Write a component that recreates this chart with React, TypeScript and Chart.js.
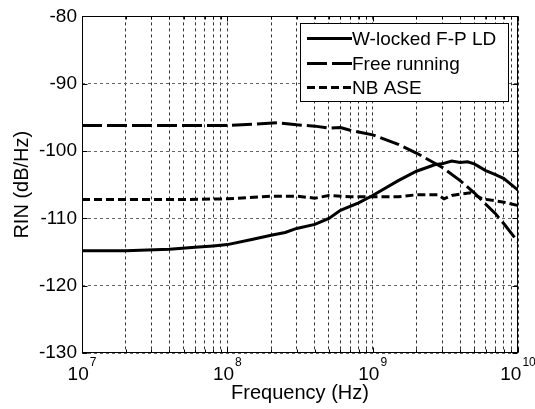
import React, { useEffect, useRef } from "react";
import { Chart, registerables } from "chart.js";

Chart.register(...registerables);

// ---- Data ----
const freqLocked = [1e7, 2e7, 4e7, 6e7, 8e7, 1e8, 1.5e8, 2e8, 2.5e8, 3e8, 4e8, 5e8, 6e8, 8e8, 1e9, 1.5e9, 2e9, 2.7e9, 3e9, 3.5e9, 4e9, 4.5e9, 5e9, 6e9, 7e9, 8e9, 1e10];
const rinLocked = [-114.8, -114.8, -114.6, -114.3, -114.1, -113.9, -113.1, -112.5, -112.1, -111.5, -110.9, -110.0, -108.8, -107.7, -106.6, -104.4, -103.0, -102.0, -101.9, -101.5, -101.7, -101.6, -101.9, -102.9, -103.5, -104.1, -105.8];

const freqFree = [1e7, 5e7, 1e8, 1.5e8, 2.2e8, 3e8, 4e8, 5e8, 6e8, 7e8, 1e9, 1.5e9, 2e9, 3e9, 4e9, 5e9, 6e9, 7e9, 8e9, 1e10];
const rinFree = [-96.2, -96.2, -96.2, -96.0, -95.8, -96.1, -96.3, -96.6, -96.5, -96.9, -97.6, -99.0, -100.3, -102.4, -104.4, -106.2, -107.9, -109.3, -110.8, -113.5];

const freqASE = [1e7, 5e7, 1e8, 2e8, 3e8, 4e8, 5e8, 7e8, 1e9, 1.5e9, 2e9, 2.8e9, 3.1e9, 3.5e9, 4e9, 4.7e9, 5.7e9, 7e9, 8e9, 1e10];
const rinASE = [-107.2, -107.2, -107.1, -106.7, -106.7, -107.0, -106.6, -106.8, -106.8, -106.8, -106.5, -106.5, -107.1, -106.6, -106.4, -106.2, -107.1, -107.4, -107.6, -108.1];

const seriesLabels = ["W-locked F-P LD", "Free running", "NB ASE"];
const seriesDashes: number[][] = [[], [20, 5], [8, 4]];

const yTicks = [-130, -120, -110, -100, -90, -80];
const xDecadeExponents = [7, 8, 9, 10];
const xMinorMultipliers = [1, 2, 3, 4, 5, 6, 7, 8, 9];

const xTitle = "Frequency (Hz)";
const yTitle = "RIN (dB/Hz)";

const FONT = "'Liberation Sans', Arial, Helvetica, sans-serif";

function pts(xs: number[], ys: number[]) {
  return xs.map((x, i) => ({ x, y: ys[i] }));
}

function buildXTicks() {
  const t: number[] = [];
  for (let e = 7; e < 10; e++) {
    for (const m of xMinorMultipliers) t.push(m * Math.pow(10, e));
  }
  t.push(1e10);
  return t;
}

const decorPlugin = {
  id: "decor",
  afterDraw(chart: any) {
    const ctx = chart.ctx as CanvasRenderingContext2D;
    const { left, right, top, bottom } = chart.chartArea;
    const xs = chart.scales.x;
    const ys = chart.scales.y;
    const L = Math.round(left) + 0.5;
    const R = Math.round(right) - 0.5;
    const T = Math.round(top) + 0.5;
    const B = Math.round(bottom) - 0.5;
    ctx.save();
    // box
    ctx.strokeStyle = "#000";
    ctx.lineWidth = 1;
    ctx.setLineDash([]);
    ctx.strokeRect(L, T, R - L, B - T);
    // inward ticks
    ctx.beginPath();
    for (const v of buildXTicks()) {
      const px = Math.round(xs.getPixelForValue(v)) + 0.5;
      const major = Math.abs(Math.log10(v) - Math.round(Math.log10(v))) < 1e-9;
      const len = major ? 5 : 3;
      ctx.moveTo(px, B);
      ctx.lineTo(px, B - len);
      ctx.moveTo(px, T);
      ctx.lineTo(px, T + len);
    }
    for (const v of yTicks) {
      const py = Math.round(ys.getPixelForValue(v)) + 0.5;
      ctx.moveTo(L, py);
      ctx.lineTo(L + 5, py);
      ctx.moveTo(R, py);
      ctx.lineTo(R - 5, py);
    }
    ctx.stroke();

    // x tick labels 10^n
    ctx.fillStyle = "#000";
    ctx.textBaseline = "alphabetic";
    ctx.textAlign = "left";
    for (const e of xDecadeExponents) {
      const px = xs.getPixelForValue(Math.pow(10, e));
      ctx.font = `19px ${FONT}`;
      const w1 = ctx.measureText("10").width;
      ctx.font = `12px ${FONT}`;
      const w2 = ctx.measureText(String(e)).width;
      const start = px - (w1 + w2 + 1) / 2;
      ctx.font = `19px ${FONT}`;
      ctx.fillText("10", start, 380);
      ctx.font = `12px ${FONT}`;
      ctx.fillText(String(e), start + w1 + 1, 366);
    }

    // axis titles
    ctx.font = `20px ${FONT}`;
    ctx.textAlign = "center";
    ctx.fillText(xTitle, (left + right) / 2, 399);
    ctx.save();
    ctx.translate(28, (top + bottom) / 2);
    ctx.rotate(-Math.PI / 2);
    ctx.fillText(yTitle, 0, 0);
    ctx.restore();

    // legend
    const bx = 300.5, by = 23.5, bw = 208, bh = 78;
    ctx.fillStyle = "#fff";
    ctx.fillRect(bx, by, bw, bh);
    ctx.strokeStyle = "#000";
    ctx.lineWidth = 1;
    ctx.strokeRect(bx, by, bw, bh);
    const rows = [38.5, 63.5, 87.5];
    ctx.font = `19px ${FONT}`;
    ctx.textAlign = "left";
    ctx.textBaseline = "middle";
    rows.forEach((ry, i) => {
      ctx.beginPath();
      ctx.lineWidth = 3;
      ctx.setLineDash(seriesDashes[i]);
      ctx.moveTo(307, ry);
      ctx.lineTo(352, ry);
      ctx.stroke();
      ctx.setLineDash([]);
      ctx.fillStyle = "#000";
      ctx.fillText(seriesLabels[i], 352, ry + 1);
    });
    ctx.restore();
  },
};

export default function App() {
  const ref = useRef<HTMLCanvasElement | null>(null);
  useEffect(() => {
    if (!ref.current) return;
    const datasets = [
      pts(freqLocked, rinLocked),
      pts(freqFree, rinFree),
      pts(freqASE, rinASE),
    ].map((d, i) => ({
      label: seriesLabels[i],
      data: d,
      borderColor: "#000",
      backgroundColor: "#000",
      borderWidth: 3,
      borderDash: seriesDashes[i],
      pointRadius: 0,
      tension: 0,
      fill: false,
    }));
    const chart = new Chart(ref.current, {
      type: "line",
      data: { datasets },
      options: {
        animation: false,
        responsive: false,
        devicePixelRatio: 1,
        layout: { padding: { top: 15, right: 17, left: 0, bottom: 0 } },
        plugins: { legend: { display: false }, tooltip: { enabled: false }, title: { display: false } },
        scales: {
          x: {
            type: "logarithmic",
            min: 1e7,
            max: 1e10,
            afterBuildTicks: (axis: any) => {
              axis.ticks = buildXTicks().map((v) => ({ value: v }));
            },
            afterFit: (axis: any) => {
              axis.height = 56;
            },
            ticks: { display: false },
            grid: { color: "#333", lineWidth: 1, drawTicks: false },
            border: { display: false, dash: [3, 3] },
          },
          y: {
            type: "linear",
            min: -130,
            max: -80,
            afterBuildTicks: (axis: any) => {
              axis.ticks = yTicks.map((v) => ({ value: v }));
            },
            afterFit: (axis: any) => {
              axis.width = 82;
            },
            ticks: {
              color: "#000",
              font: { family: FONT, size: 19 },
              padding: 5,
            },
            grid: { color: "#666", lineWidth: 1, drawTicks: false },
            border: { display: false, dash: [3, 3] },
          },
        },
      },
      plugins: [decorPlugin],
    } as any);
    return () => chart.destroy();
  }, []);
  return (
    <div style={{ position: "fixed", left: 0, top: 0, width: 535, height: 409, background: "#fff" }}>
      <canvas ref={ref} width={535} height={409} style={{ width: 535, height: 409, display: "block" }} />
    </div>
  );
}
